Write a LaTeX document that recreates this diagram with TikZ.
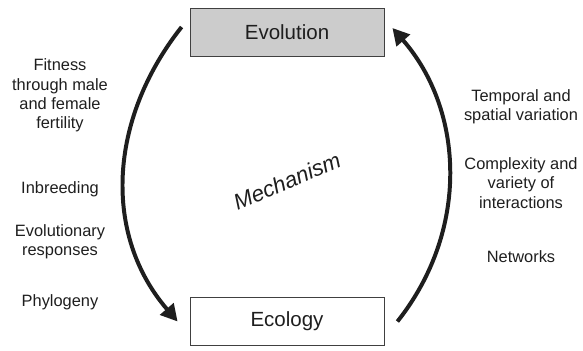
\documentclass[tikz,border=0pt]{standalone}
\usepackage{fontspec}
\setmainfont{Liberation Sans}
\usetikzlibrary{arrows.meta,calc}
\definecolor{boxgray}{RGB}{204,204,204}
\definecolor{ink}{RGB}{30,30,30}
\begin{document}
\begin{tikzpicture}[x=0.03cm,y=-0.03cm,
  every node/.style={text=ink},
  box/.style={draw=ink!85,line width=0.7pt,minimum width=5.82cm,minimum height=1.44cm,inner sep=0pt,font=\fontsize{17.5}{20}\selectfont},
  note/.style={align=center,font=\fontsize{14}{16.6}\selectfont},
  flow/.style={draw=ink,line width=3.4pt,-{Triangle[length=0.5cm,width=0.52cm]}}]
  \useasboundingbox (0,0) rectangle (583,350);
  % the two levels
  \node[box,fill=boxgray] (evo) at (287,32) {Evolution};
  \node[box,fill=white] (eco) at (287,321.5) {Ecology};
  % arrows between them
  \draw[flow] ($(evo.west)+(-8,-5)$) .. controls (108,120) and (103,235) .. ($(eco.west)+(-12,0)$);
  \draw[flow] ($(eco.east)+(13,0)$) .. controls (470,230) and (464,110) .. ($(evo.east)+(8,-4)$);
  \node[rotate=23,font=\fontsize{19}{21}\selectfont\itshape] (mech) at (287,181) {Mechanism};
  % left column
  \node[note] (fit) at (60,95.5) {Fitness\\through male\\and female\\fertility};
  \node[note] (inb) at (60,189) {Inbreeding};
  \node[note] (resp) at (60,241.5) {Evolutionary\\responses};
  \node[note] (phy) at (60,302) {Phylogeny};
  % right column
  \node[note] (var) at (521,106.5) {Temporal and\\spatial variation};
  \node[note] (cplx) at (521,183) {Complexity and\\variety of\\interactions};
  \node[note] (net) at (521,257) {Networks};
\end{tikzpicture}
\end{document}
